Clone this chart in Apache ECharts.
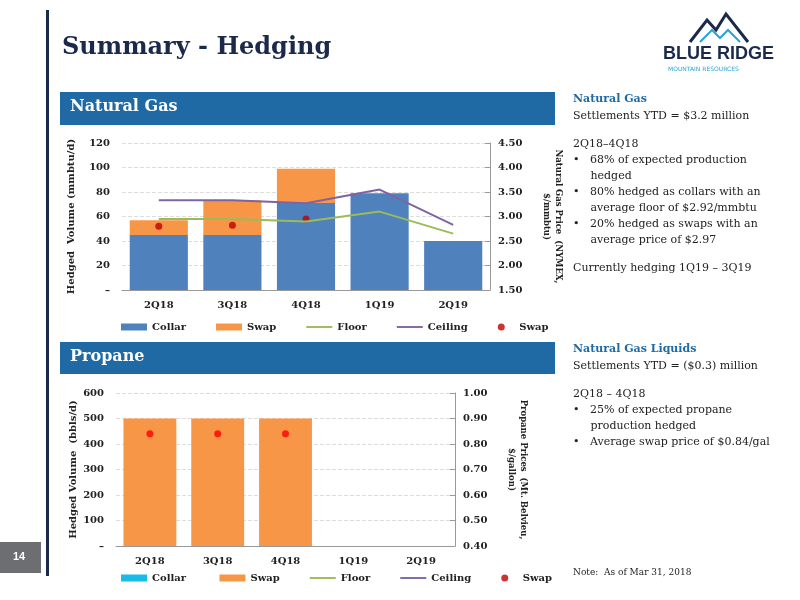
<!DOCTYPE html><html><head><meta charset="utf-8">
<script src="https://cdn.jsdelivr.net/npm/echarts@6/dist/echarts.min.js"></script>
<style>html,body{margin:0;padding:0;background:#fff}#c{width:800px;height:600px}</style></head><body><div id="c"></div>
<script>
const categories=['2Q18','3Q18','4Q18','1Q19','2Q19'];
const gasCollar=[45,45,71,79,40];
const gasSwap=[12,28,28,0,0];
const gasFloor=[2.95,2.95,2.90,3.10,2.65];
const gasCeiling=[3.33,3.33,3.27,3.55,2.83];
const gasSwapPrice=[2.80,2.82,2.95,null,null];
const propCollar=[0,0,0,0,0];
const propSwap=[500,500,500,0,0];
const propSwapPrice=[0.84,0.84,0.84,null,null];
const F='DejaVu Serif';
const c=echarts.init(document.getElementById('c'));
const ax={fontFamily:F,fontWeight:'bold',fontSize:10,color:'#222'};
function yAxes(gi,max,intv,rmin,rmax,rint,lname,rname,lgap,rgap){
 return [{type:'value',gridIndex:gi,min:0,max:max,interval:intv,axisLine:{show:false},axisTick:{show:false},
  axisLabel:Object.assign({},ax,{formatter:v=>v===0?'–':v,margin:12}),splitLine:{lineStyle:{color:'#ddd',type:'dashed'}},
  name:lname,nameLocation:'middle',nameGap:lgap,nameRotate:90,nameTextStyle:Object.assign({},ax)},
 {type:'value',gridIndex:gi,min:rmin,max:rmax,interval:rint,axisLine:{show:true,lineStyle:{color:'#999'}},axisTick:{show:true,inside:true,lineStyle:{color:'#999'}},
  axisLabel:Object.assign({},ax,{formatter:v=>v.toFixed(2)}),splitLine:{show:false},
  name:rname,nameLocation:'middle',nameGap:rgap,nameRotate:-90,nameTextStyle:Object.assign({},ax,{fontSize:8.5,lineHeight:12})}];
}
const lineIcon='path://M0,0H30V2.2H0Z';
const leg=(top,first)=>({top:top,left:116,itemGap:30,itemWidth:26,itemHeight:7,symbolKeepAspect:true,textStyle:Object.assign({},ax),
 data:[{name:first,icon:'rect'},{name:'Swap',icon:'rect'},{name:'Floor',icon:lineIcon},{name:'Ceiling',icon:lineIcon},{name:'Swap ',icon:'circle'}]});
const ya=yAxes(0,120,20,1.5,4.5,0.5,'Hedged  Volume (mmbtu/d)','Natural Gas Price  (NYMEX,\n$/mmbtu)',46,50)
 .concat(yAxes(1,600,100,0.4,1.0,0.1,'Hedged Volume  (bbls/d)','Propane Prices  (Mt. Belvieu,\n$/gallon)',38,50));
c.setOption({animation:false,
 grid:[{left:122,top:143,width:368,height:147},{left:116,top:393,width:339,height:153}],
 legend:[leg(317,'Collar'),leg(568,'Collar ')],
 xAxis:[0,1].map(g=>({type:'category',gridIndex:g,data:categories,axisLine:{lineStyle:{color:'#999'}},axisTick:{show:false},axisLabel:Object.assign({},ax,{margin:10})})),
 yAxis:ya,
 series:[
  {name:'Collar',type:'bar',stack:'g',data:gasCollar,barWidth:'79%',itemStyle:{color:'#4f81bd'}},
  {name:'Swap',type:'bar',stack:'g',data:gasSwap,itemStyle:{color:'#f79646'}},
  {name:'Floor',type:'line',yAxisIndex:1,data:gasFloor,symbol:'none',lineStyle:{color:'#9bbb59',width:2},itemStyle:{color:'#9bbb59'}},
  {name:'Ceiling',type:'line',yAxisIndex:1,data:gasCeiling,symbol:'none',lineStyle:{color:'#8064a2',width:2},itemStyle:{color:'#8064a2'}},
  {name:'Swap ',type:'scatter',yAxisIndex:1,data:gasSwapPrice,symbolSize:7,itemStyle:{color:'#c00000'}},
  {name:'Collar ',type:'bar',stack:'p',xAxisIndex:1,yAxisIndex:2,data:propCollar,barWidth:'78%',itemStyle:{color:'#17bce6'}},
  {name:'Swap',type:'bar',stack:'p',xAxisIndex:1,yAxisIndex:2,data:propSwap,itemStyle:{color:'#f79646'}},
  {name:'Floor',type:'line',xAxisIndex:1,yAxisIndex:3,data:[],symbol:'none',lineStyle:{color:'#9bbb59',width:2},itemStyle:{color:'#9bbb59'}},
  {name:'Ceiling',type:'line',xAxisIndex:1,yAxisIndex:3,data:[],symbol:'none',lineStyle:{color:'#8064a2',width:2},itemStyle:{color:'#8064a2'}},
  {name:'Swap ',type:'scatter',xAxisIndex:1,yAxisIndex:3,data:propSwapPrice,symbolSize:7,itemStyle:{color:'#ff0000'}}
 ],
 graphic:[
  {type:'rect',shape:{x:46,y:10,width:3,height:566},style:{fill:'#1b2a4a'}},
  {type:'text',left:62,top:36,style:{text:'Summary - Hedging',font:'bold 24px "DejaVu Serif"',fill:'#1b2a4a'}},
  {type:'rect',shape:{x:60,y:92,width:495,height:33},style:{fill:'#1f6aa5'}},
  {type:'text',left:70,top:99,style:{text:'Natural Gas',font:'bold 16px "DejaVu Serif"',fill:'#fff'}},
  {type:'rect',shape:{x:60,y:342,width:495,height:32},style:{fill:'#1f6aa5'}},
  {type:'text',left:70,top:349,style:{text:'Propane',font:'bold 16px "DejaVu Serif"',fill:'#fff'}},
  {type:'rect',shape:{x:0,y:542,width:41,height:31},style:{fill:'#6d6e71'}},
  {type:'text',left:13,top:551,style:{text:'14',font:'bold 11px "Liberation Sans"',fill:'#fff'}},
  {type:'polyline',shape:{points:[[690,42],[707,20],[716,30],[726,14],[748,42]]},style:{stroke:'#1b2a4a',lineWidth:3,fill:null}},
  {type:'polyline',shape:{points:[[700,42],[712,30],[720,38],[728,30],[740,42]]},style:{stroke:'#29a3d8',lineWidth:2,fill:null}},
  {type:'text',left:663,top:45,style:{text:'BLUE RIDGE',font:'bold 18px "Liberation Sans"',fill:'#1b2a4a'}},
  {type:'text',left:668,top:66,style:{text:'MOUNTAIN RESOURCES',font:'6px "DejaVu Sans"',fill:'#29a3d8'}},
  {type:'text',left:573,top:94,style:{rich:{h:{font:'bold 11px "DejaVu Serif"',fill:'#1f6aa5',lineHeight:18},n:{font:'11px "DejaVu Serif"',fill:'#222',lineHeight:16}},
   text:'{h|Natural Gas}\n{n|Settlements YTD = $3.2 million}\n\n{n|2Q18–4Q18}\n{n|•   68% of expected production}\n{n|     hedged}\n{n|•   80% hedged as collars with an}\n{n|     average floor of $2.92/mmbtu}\n{n|•   20% hedged as swaps with an}\n{n|     average price of $2.97}\n\n{n|Currently hedging 1Q19 – 3Q19}'}},
  {type:'text',left:573,top:344,style:{rich:{h:{font:'bold 11px "DejaVu Serif"',fill:'#1f6aa5',lineHeight:18},n:{font:'11px "DejaVu Serif"',fill:'#222',lineHeight:16}},
   text:'{h|Natural Gas Liquids}\n{n|Settlements YTD = ($0.3) million}\n\n{n|2Q18 – 4Q18}\n{n|•   25% of expected propane}\n{n|     production hedged}\n{n|•   Average swap price of $0.84/gal}'}},
  {type:'text',left:573,top:568,style:{text:'Note:  As of Mar 31, 2018',font:'9px "DejaVu Serif"',fill:'#222'}}
 ]
});
</script></body></html>
